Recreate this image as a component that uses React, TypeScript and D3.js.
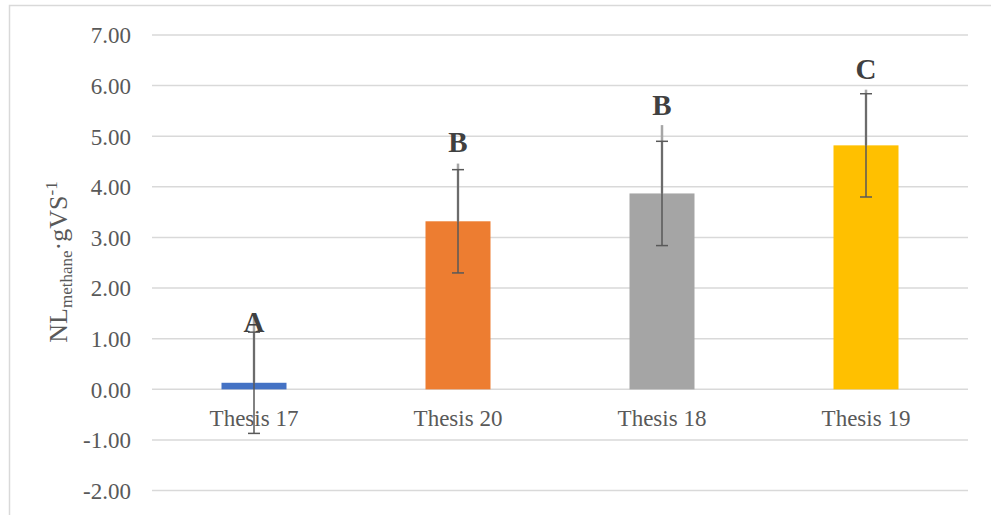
import React from "react";
import * as d3 from "d3";

const categories = ["Thesis 17", "Thesis 20", "Thesis 18", "Thesis 19"];
const values = [0.13, 3.32, 3.87, 4.82];
const errors = [1.0, 1.02, 1.03, 1.02];
const guideTops = [1.5, 4.46, 5.22, 5.92];
const letters = ["A", "B", "B", "C"];
const letterBase = [1.13, 4.68, 5.41, 6.13];
const colors = ["#4472C4", "#ED7D31", "#A5A5A5", "#FFC000"];
const yTicks = [-2, -1, 0, 1, 2, 3, 4, 5, 6, 7];

const W = 991;
const H = 515;
const FONT = "'Liberation Serif', 'Times New Roman', serif";

export default function App() {
  const x = d3.scaleBand<string>().domain(categories).range([152, 968]).paddingInner(0).paddingOuter(0);
  const y = d3.scaleLinear().domain([-2, 7]).range([490.6, 35]);
  const bw = 65;
  const fmt = (t: number) => d3.format(".2f")(t).replace("\u2212", "-");

  return (
    <svg
      width={W}
      height={H}
      style={{ position: "absolute", left: 0, top: 0, background: "#fff" }}
      fontFamily={FONT}
    >
      <rect x={9.5} y={5.5} width={1000} height={530} fill="#fff" stroke="#D9D9D9" strokeWidth={1.5} />
      {yTicks.map((t) => (
        <g key={t}>
          <line x1={152} x2={968} y1={y(t)} y2={y(t)} stroke="#D9D9D9" strokeWidth={1.5} />
          <text x={131} y={y(t)} dy="0.36em" textAnchor="end" fontSize={23} fill="#595959">
            {fmt(t)}
          </text>
        </g>
      ))}
      {categories.map((c, i) => {
        const cx = (x(c) as number) + x.bandwidth() / 2;
        const v = values[i];
        return (
          <g key={c}>
            <rect
              x={cx - bw / 2}
              y={Math.min(y(v), y(0))}
              width={bw}
              height={Math.abs(y(0) - y(v))}
              fill={colors[i]}
            />
          </g>
        );
      })}
      {categories.map((c, i) => (
        <text
          key={"xl" + c}
          x={(x(c) as number) + x.bandwidth() / 2}
          y={426}
          textAnchor="middle"
          fontSize={23}
          fill="#595959"
        >
          {c}
        </text>
      ))}
      {categories.map((c, i) => {
        const cx = (x(c) as number) + x.bandwidth() / 2;
        const v = values[i];
        const e = errors[i];
        return (
          <g key={"e" + c}>
            <line x1={cx} x2={cx} y1={y(guideTops[i])} y2={y(v)} stroke="#A6A6A6" strokeWidth={2.5} />
            <line x1={cx} x2={cx} y1={y(v + e)} y2={y(v - e)} stroke="#595959" strokeWidth={1.5} />
            <line x1={cx - 6} x2={cx + 6} y1={y(v + e)} y2={y(v + e)} stroke="#595959" strokeWidth={1.5} />
            <line x1={cx - 6} x2={cx + 6} y1={y(v - e)} y2={y(v - e)} stroke="#595959" strokeWidth={1.5} />
            <text x={cx} y={y(letterBase[i])} textAnchor="middle" fontSize={29} fontWeight="bold" fill="#404040">
              {letters[i]}
            </text>
          </g>
        );
      })}
      <text transform={`translate(67,262) rotate(-90)`} textAnchor="middle" fontSize={26} fill="#595959">
        <tspan>NL</tspan>
        <tspan fontSize={17} dy={5}>methane</tspan>
        <tspan dy={-5}>·gVS</tspan>
        <tspan fontSize={17} dy={-10}>-1</tspan>
      </text>
    </svg>
  );
}
